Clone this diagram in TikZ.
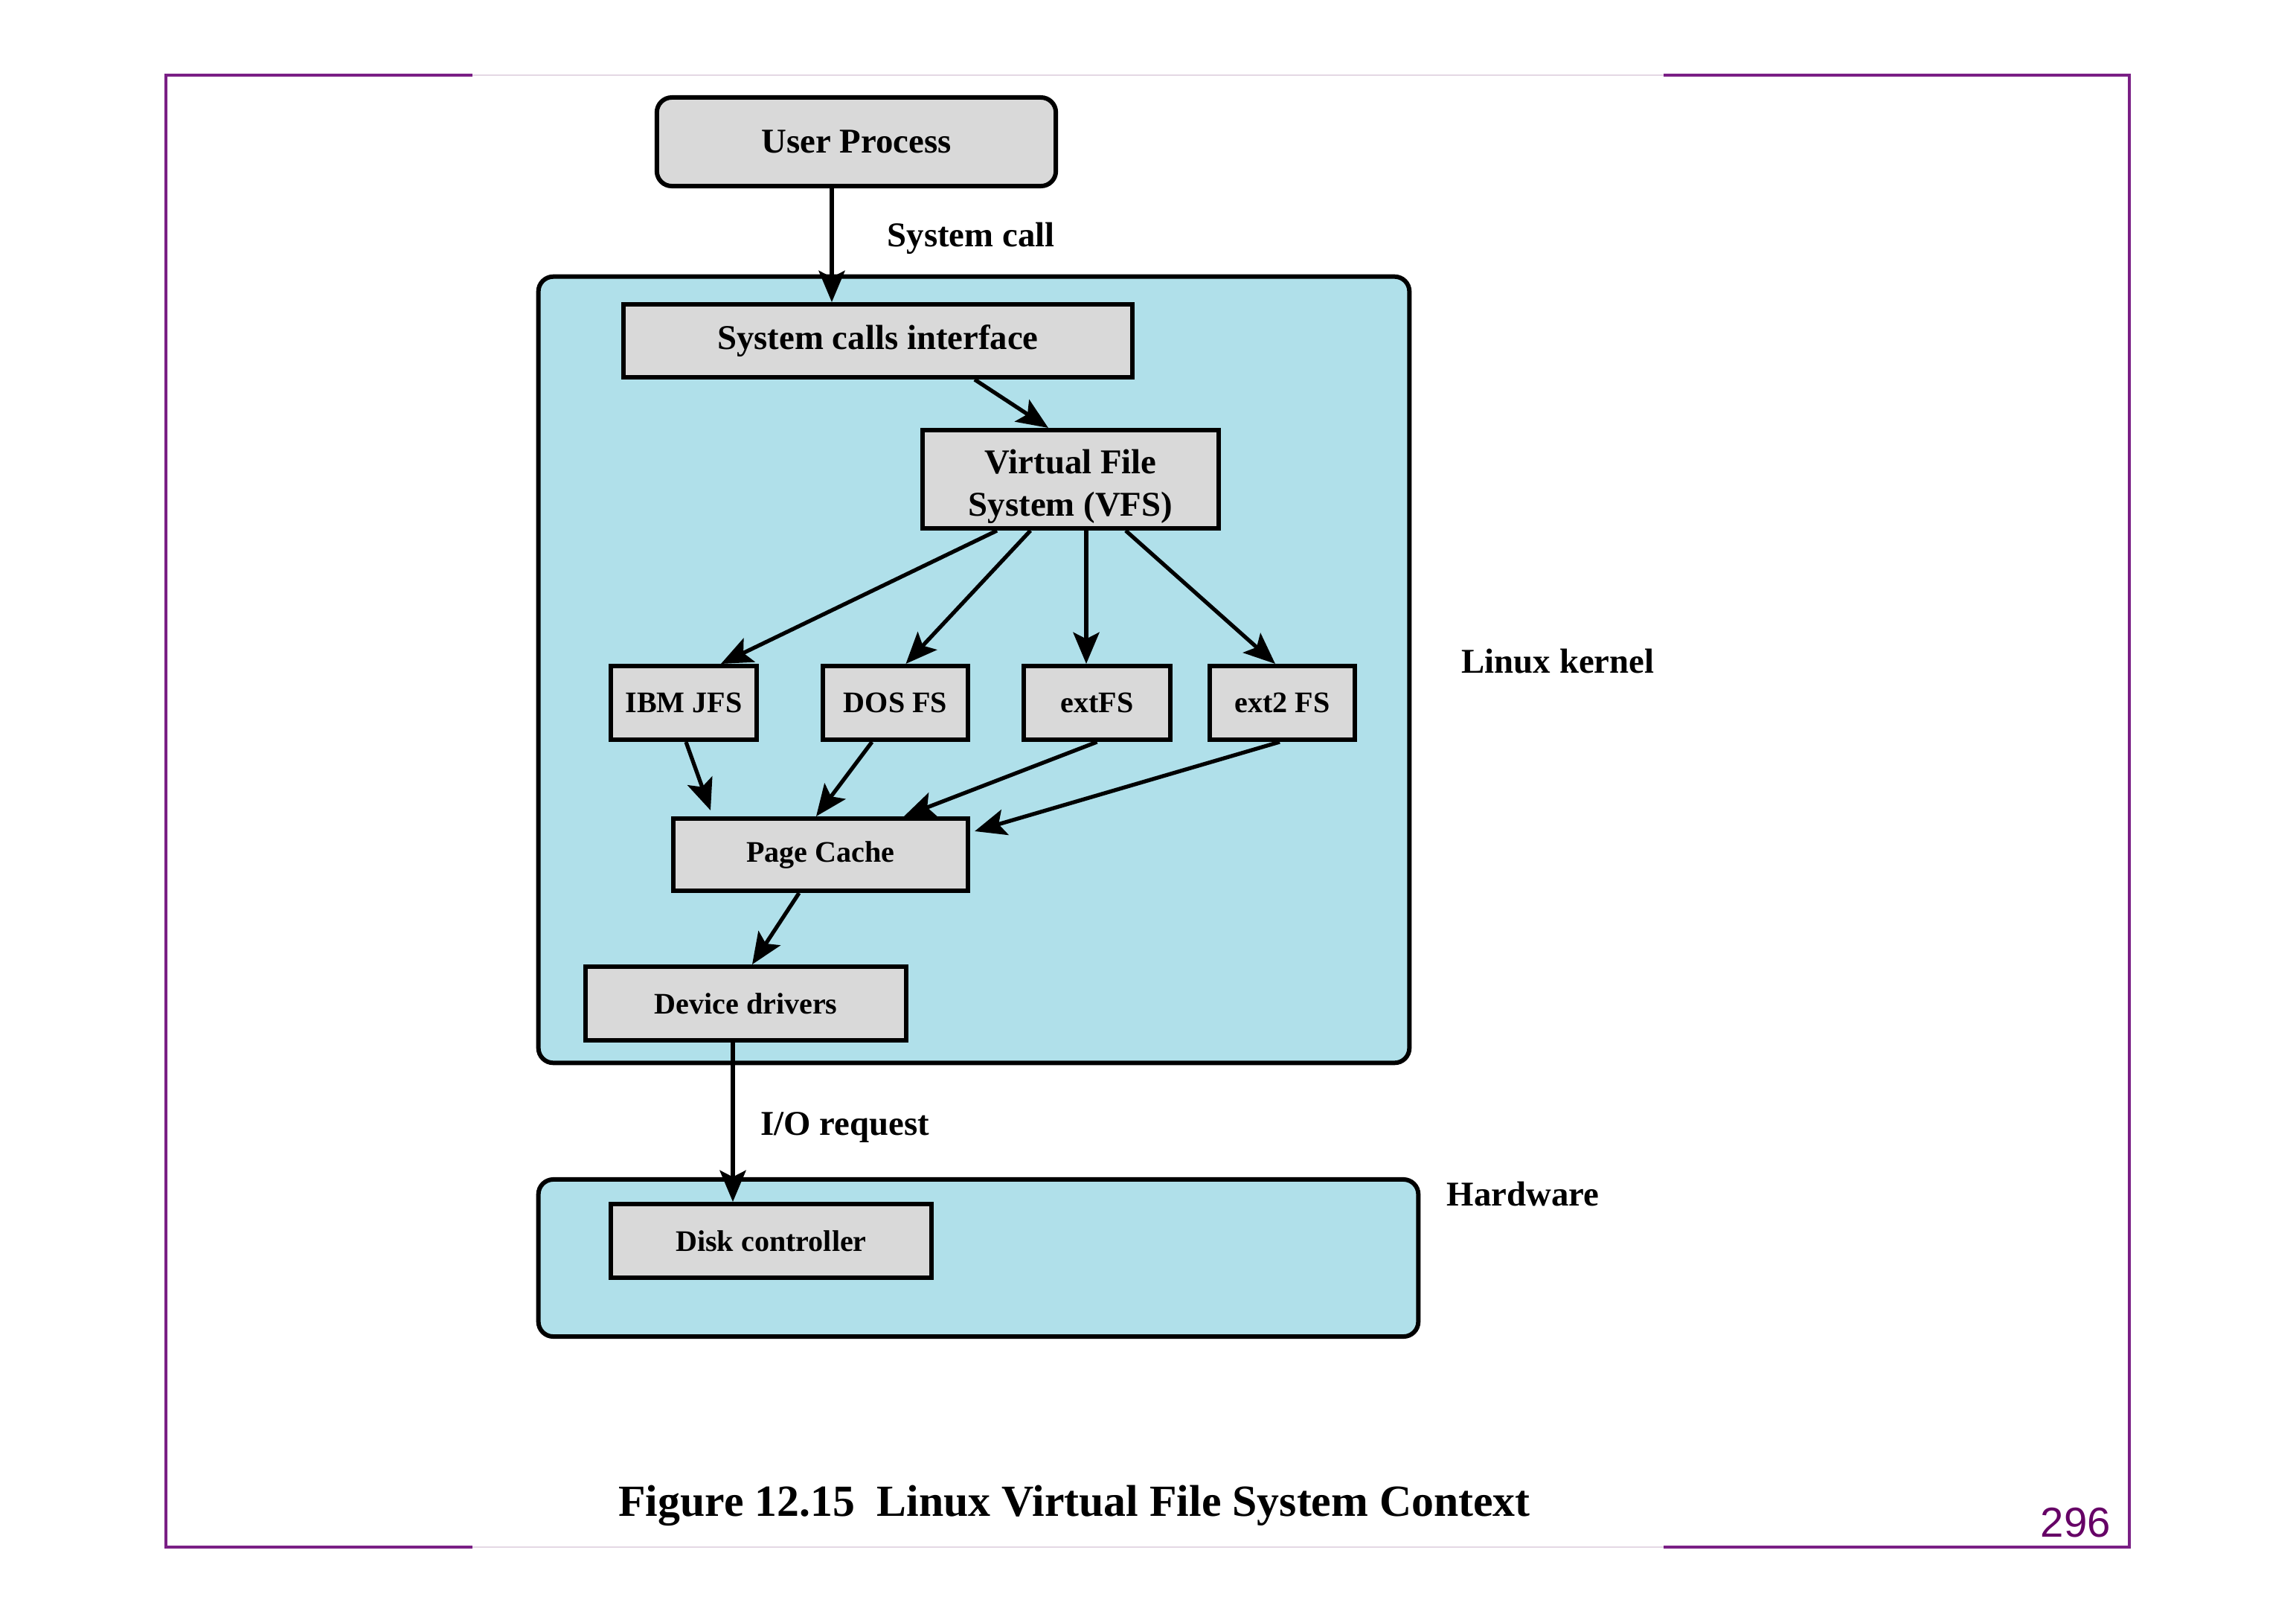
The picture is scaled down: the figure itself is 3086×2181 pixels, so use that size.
\documentclass[tikz,border=0pt]{standalone}
\usepackage{fontspec}
\setmainfont{Liberation Serif}
\newfontfamily\pagenumfont{Liberation Sans}
\usetikzlibrary{arrows.meta,calc}
\definecolor{kblue}{HTML}{B0E0EA}
\definecolor{boxgrey}{HTML}{D9D9D9}
\definecolor{framepurple}{HTML}{7A1F85}
\definecolor{framefaint}{HTML}{E4D8E4}
\definecolor{numpurple}{HTML}{660066}
\tikzset{
  box/.style={draw=black, line width=1.7pt, fill=boxgrey, inner sep=0pt,
    align=center, font=\bfseries\fontsize{13.3}{16.2}\selectfont},
  sbox/.style={box, font=\bfseries\fontsize{11.4}{13.7}\selectfont},
  area/.style={draw=black, line width=1.7pt, fill=kblue, rounded corners=0.2cm, inner sep=0pt},
  arr/.style={-{Stealth[length=12pt,width=10pt,inset=2.5pt]}, line width=1.5pt},
  lbl/.style={anchor=west, inner sep=0pt, text height=0.68em, text depth=0.22em,
    font=\bfseries\fontsize{13.3}{16.2}\selectfont},
  framefull/.style={framepurple, line width=0.9pt},
  framelight/.style={framefaint, line width=0.8pt},
}
\begin{document}
\begin{tikzpicture}[x=0.01cm,y=-0.01cm]
\useasboundingbox (0,0) rectangle (3086,2181);
\fill[white] (0,0) rectangle (3086,2181);
% page frame
\draw[framelight] (635,101) -- (2236,101);
\draw[framelight] (635,2079) -- (2236,2079);
\draw[framefull] (635,101) -- (223,101) -- (223,2079) -- (635,2079);
\draw[framefull] (2236,101) -- (2862,101) -- (2862,2079) -- (2236,2079);

% areas
\node[area, minimum width=11.70cm, minimum height=10.56cm] (kernel) at (1309,900) {};
\node[area, minimum width=11.82cm, minimum height=2.11cm] (hw) at (1315,1690.5) {};

% boxes
\node[box, rounded corners=0.2cm, minimum width=5.36cm, minimum height=1.19cm] (user) at (1151,190.5) {User Process};
\node[box, minimum width=6.84cm, minimum height=0.98cm] (sci) at (1180,458) {System calls interface};
\node[box, minimum width=3.98cm, minimum height=1.32cm] (vfs) at (1439,644) {\raisebox{-6.4pt}[0pt][0pt]{\begin{tabular}{@{}c@{}}Virtual File\\System (VFS)\end{tabular}}};
\node[sbox, minimum width=1.96cm, minimum height=0.99cm] (ibm) at (919,944.5) {IBM JFS};
\node[sbox, minimum width=1.95cm, minimum height=0.99cm] (dos) at (1203.5,944.5) {DOS FS};
\node[sbox, minimum width=1.97cm, minimum height=0.99cm] (extfs) at (1474.5,944.5) {extFS};
\node[sbox, minimum width=1.95cm, minimum height=0.99cm] (ext2) at (1723.5,944.5) {ext2 FS};
\node[sbox, minimum width=3.96cm, minimum height=0.97cm] (pc) at (1103,1148.5) {Page Cache};
\node[sbox, minimum width=4.31cm, minimum height=0.99cm] (dd) at (1002.5,1348.5) {Device drivers};
\node[sbox, minimum width=4.31cm, minimum height=0.99cm] (disk) at (1036.5,1667.5) {Disk controller};

% labels
\node[lbl] (lsys) at (1192,323) {System call};
\node[lbl] (lio) at (1022,1517) {I/O request};
\node[lbl] (lkernel) at (1964,896) {Linux kernel};
\node[lbl] (lhw) at (1944,1612) {Hardware};
\node[anchor=base, inner sep=0pt, font=\bfseries\fontsize{17}{20}\selectfont] (cap) at (1444,2037) {Figure 12.15\ \ Linux Virtual File System Context};
\node[anchor=west, inner sep=0pt, font=\pagenumfont\fontsize{16}{19}\selectfont, text=numpurple] (pnum) at (2742,2046) {296};

% connectors
\draw[arr] ($(user.south)+(-33,0)$) -- ($(sci.north)+(-62,0)$);
\draw[arr] ($(sci.south)+(130,0)$) -- ($(vfs.north)+(-30,0)$);
\draw[arr] ($(vfs.south)+(-99,0)$) -- ($(ibm.north)+(50,0)$);
\draw[arr] ($(vfs.south)+(-54,0)$) -- ($(dos.north)+(14,0)$);
\draw[arr] ($(vfs.south)+(21,0)$) -- ($(extfs.north)+(-14.5,0)$);
\draw[arr] ($(vfs.south)+(74,0)$) -- ($(ext2.north)+(-9.5,0)$);
\draw[arr] ($(ibm.south)+(3,0)$) -- ($(pc.north)+(-148,-8)$);
\draw[arr] ($(dos.south)+(-31.5,0)$) -- ($(pc.north)+(-6,0)$);
\draw[arr] ($(extfs.south)+(0,0)$) -- ($(pc.north)+(112,0)$);
\draw[arr] ($(ext2.south)+(-3.5,0)$) -- ($(pc.north east)+(6,20)$);
\draw[arr] ($(pc.south)+(-29,0)$) -- ($(dd.north)+(8.5,0)$);
\draw[arr] ($(dd.south)+(-17.5,0)$) -- ($(disk.north)+(-51.5,0)$);
\end{tikzpicture}
\end{document}
